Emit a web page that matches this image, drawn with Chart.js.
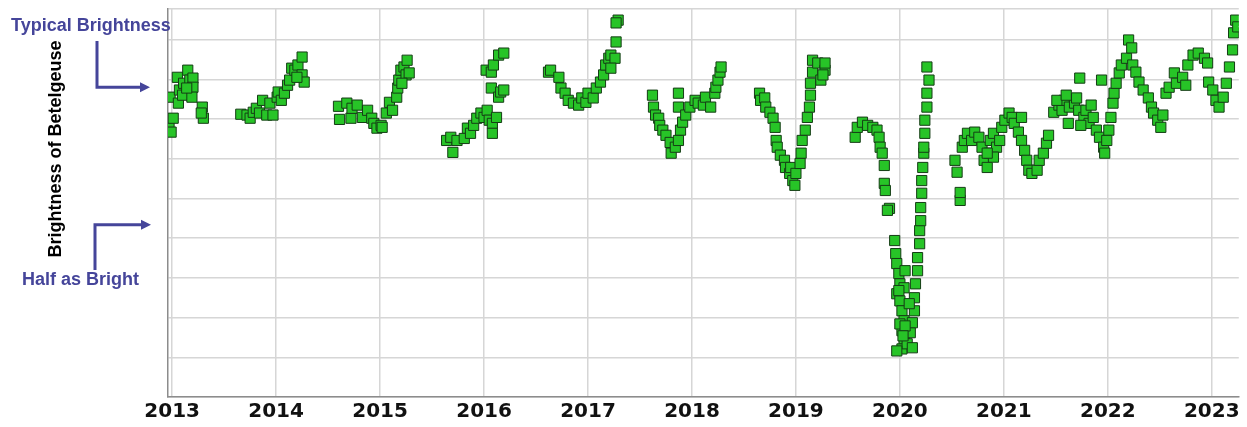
<!DOCTYPE html>
<html>
<head>
<meta charset="utf-8">
<script src="https://cdn.jsdelivr.net/npm/chart.js@4/dist/chart.umd.min.js"></script>
<style>
  body { margin: 0; background: #fff; }
  #wrap { width: 1247px; height: 427px; position: relative; }
</style>
</head>
<body>
<div id="wrap"><canvas id="chart"></canvas></div>
<script>
// year labels along the bottom
const yearTicks = [2013, 2014, 2015, 2016, 2017, 2018, 2019, 2020, 2021, 2022, 2023];

// observation dates (decimal year), one line per observing season
const obsYear = [
  2012.97, 2012.99, 2013.01, 2012.98, 2013.05, 2013.07, 2013.06, 2013.10, 2013.11, 2013.15, 2013.17, 2013.20, 2013.20, 2013.19, 2013.29, 2013.30, 2013.28, 2013.14,
  2013.66, 2013.72, 2013.75, 2013.78, 2013.81, 2013.84, 2013.87, 2013.91, 2013.94, 2013.97, 2014.01, 2014.02, 2014.05, 2014.08, 2014.11, 2014.13, 2014.15, 2014.18, 2014.21, 2014.25, 2014.25, 2014.27, 2014.20,
  2014.60, 2014.61, 2014.68, 2014.72, 2014.73, 2014.78, 2014.83, 2014.88, 2014.92, 2014.94, 2014.97, 2015.01, 2015.02, 2015.06, 2015.09, 2015.12, 2015.16, 2015.17, 2015.18, 2015.20, 2015.23, 2015.26, 2015.25, 2015.28, 2015.21,
  2015.64, 2015.68, 2015.70, 2015.74, 2015.81, 2015.84, 2015.87, 2015.90, 2015.93, 2015.97, 2016.00, 2016.03, 2016.05, 2016.08, 2016.08, 2016.12, 2016.07, 2016.14, 2016.16, 2016.19, 2016.02, 2016.07, 2016.09, 2016.14, 2016.19,
  2016.62, 2016.64, 2016.72, 2016.74, 2016.78, 2016.81, 2016.86, 2016.91, 2016.94, 2016.98, 2017.00, 2017.05, 2017.08, 2017.12, 2017.15, 2017.17, 2017.20, 2017.22, 2017.26, 2017.22, 2017.27, 2017.29, 2017.27,
  2017.62, 2017.63, 2017.65, 2017.68, 2017.69, 2017.72, 2017.75, 2017.79, 2017.80, 2017.84, 2017.87, 2017.89, 2017.91, 2017.87, 2017.87, 2017.94, 2017.98, 2018.03, 2018.06, 2018.11, 2018.13, 2018.18, 2018.22, 2018.23, 2018.25, 2018.27, 2018.28,
  2018.65, 2018.66, 2018.70, 2018.71, 2018.75, 2018.78, 2018.80, 2018.81, 2018.82, 2018.85, 2018.89, 2018.90, 2018.94, 2018.97, 2018.99, 2018.95, 2019.00, 2019.04, 2019.05, 2019.06, 2019.09, 2019.11, 2019.13, 2019.14, 2019.14, 2019.16, 2019.16, 2019.21, 2019.24, 2019.28, 2019.28, 2019.26,
  2019.57, 2019.59, 2019.64, 2019.69, 2019.74, 2019.78, 2019.80, 2019.81, 2019.83, 2019.85, 2019.85, 2019.86, 2019.90, 2019.88,
  2019.95, 2019.96, 2019.97, 2019.99, 2020.00, 2019.97, 2020.00, 2020.02, 2020.04, 2020.02, 2020.04, 2020.02, 2020.07, 2020.10, 2020.12, 2020.14, 2020.14, 2020.15, 2020.17, 2020.17, 2020.19, 2020.19, 2020.20, 2020.20, 2020.21, 2020.21, 2020.22, 2020.23,
  2020.05, 2020.04, 2020.00, 2019.97, 2020.09, 2020.12, 2020.26, 2020.28, 2020.26, 2020.26, 2020.24, 2020.24, 2020.23, 2019.99, 2020.05, 2020.03,
  2020.55, 2020.58, 2020.58, 2020.53, 2020.60, 2020.62, 2020.65, 2020.69, 2020.72, 2020.76, 2020.79, 2020.81, 2020.84, 2020.86, 2020.87, 2020.90, 2020.93, 2020.96, 2020.98, 2021.01, 2021.05, 2021.08, 2021.10, 2021.14, 2021.17, 2021.17, 2021.20, 2021.22, 2021.24, 2021.27, 2021.32, 2021.34, 2021.38, 2021.41, 2021.43, 2020.90, 2020.84,
  2021.48, 2021.53, 2021.56, 2021.58, 2021.62, 2021.63, 2021.68, 2021.72, 2021.73, 2021.77, 2021.79, 2021.82, 2021.86, 2021.89, 2021.92, 2021.94, 2021.96, 2021.97, 2021.99, 2022.01, 2022.03, 2022.05, 2022.06, 2022.08, 2022.11, 2022.13, 2022.18, 2022.20, 2022.23, 2022.24, 2022.27, 2022.30, 2022.34, 2022.39, 2022.42, 2022.44, 2022.48, 2022.51, 2021.51, 2021.60, 2021.70, 2021.84, 2021.74,
  2022.53, 2022.56, 2022.59, 2022.64, 2022.66, 2022.72, 2022.75, 2022.77, 2022.82, 2022.87, 2022.93, 2022.96, 2022.97, 2023.01, 2023.04, 2023.07, 2023.11, 2023.14, 2023.17, 2023.20, 2023.21, 2023.23, 2023.25
];

// brightness level (grid lines = whole units)
const obsLevel = [
  6.79, 6.67, 7.02, 7.55, 8.05, 7.73, 7.40, 7.60, 7.90, 8.23, 7.98, 8.03, 7.80, 7.55, 7.30, 7.02, 7.15, 7.78,
  7.12, 7.10, 7.02, 7.17, 7.27, 7.15, 7.47, 7.10, 7.40, 7.10, 7.55, 7.68, 7.47, 7.65, 7.85, 7.98, 8.28, 8.23, 8.36, 8.56, 8.11, 7.93, 8.05,
  7.32, 6.99, 7.40, 7.02, 7.27, 7.35, 7.04, 7.22, 7.02, 6.89, 6.77, 6.84, 6.79, 7.15, 7.42, 7.22, 7.55, 7.78, 7.98, 8.23, 8.31, 8.48, 8.11, 8.16, 7.90,
  6.46, 6.54, 6.16, 6.46, 6.51, 6.77, 6.64, 6.84, 7.02, 7.15, 7.04, 7.22, 6.97, 6.89, 6.64, 7.04, 7.78, 7.55, 7.68, 7.73, 8.23, 8.18, 8.36, 8.61, 8.66,
  8.18, 8.23, 8.05, 7.78, 7.65, 7.47, 7.40, 7.35, 7.53, 7.42, 7.65, 7.53, 7.78, 7.93, 8.11, 8.36, 8.53, 8.61, 8.53, 8.28, 8.94, 9.49, 9.42,
  7.60, 7.30, 7.10, 7.02, 6.84, 6.72, 6.59, 6.41, 6.14, 6.29, 6.46, 6.72, 6.92, 7.65, 7.30, 7.10, 7.30, 7.47, 7.40, 7.35, 7.55, 7.30, 7.65, 7.80, 7.98, 8.18, 8.31,
  7.65, 7.47, 7.53, 7.30, 7.17, 7.02, 6.79, 6.46, 6.29, 6.09, 5.96, 5.78, 5.63, 5.45, 5.33, 5.78, 5.63, 5.88, 6.14, 6.46, 6.72, 7.04, 7.30, 7.60, 7.90, 8.18, 8.48, 8.41, 7.98, 8.23, 8.41, 8.11,
  6.54, 6.79, 6.92, 6.84, 6.79, 6.72, 6.54, 6.29, 6.14, 5.83, 5.38, 5.20, 4.75, 4.70,
  3.94, 3.61, 3.36, 3.11, 2.85, 2.60, 2.42, 2.17, 1.92, 1.67, 1.46, 1.21, 1.34, 1.62, 1.87, 2.17, 2.50, 2.85, 3.18, 3.51, 3.86, 4.19, 4.44, 4.77, 5.13, 5.45, 5.78, 6.14,
  3.18, 2.75, 1.84, 1.16, 2.35, 1.24, 8.31, 7.98, 7.65, 7.30, 6.97, 6.64, 6.29, 2.68, 1.79, 1.54,
  5.66, 4.95, 5.15, 5.96, 6.29, 6.46, 6.64, 6.46, 6.67, 6.54, 6.29, 5.96, 5.78, 6.14, 6.46, 6.64, 6.29, 6.46, 6.79, 6.97, 7.15, 7.04, 6.89, 6.67, 7.04, 6.46, 6.21, 5.96, 5.71, 5.63, 5.71, 5.96, 6.14, 6.39, 6.59, 6.04, 6.14,
  7.17, 7.35, 7.22, 7.47, 6.89, 7.30, 7.40, 7.22, 8.03, 7.04, 7.22, 6.89, 7.04, 6.72, 6.54, 7.98, 6.29, 6.14, 6.46, 6.72, 7.04, 7.40, 7.65, 7.90, 8.16, 8.36, 8.53, 8.99, 8.79, 8.36, 8.18, 7.93, 7.73, 7.53, 7.30, 7.15, 6.97, 6.79, 7.47, 7.60, 7.53, 7.35, 6.84,
  7.10, 7.65, 7.80, 8.16, 7.90, 8.05, 7.85, 8.36, 8.61, 8.66, 8.53, 8.41, 7.93, 7.73, 7.47, 7.30, 7.55, 7.90, 8.31, 8.74, 9.17, 9.49, 9.32
];

// levels the two side arrows point at
const typicalLevel = 7.8;
const halfLevel = 4.34;
const axisTitle = "Brightness of Betelgeuse";
const typicalText = "Typical Brightness";
const halfText = "Half as Bright";

const points = obsYear.map((x, i) => ({ x: x, y: obsLevel[i] }));

const arrowColor = "#45459a";

function drawArrow(ctx, x0, y0, yTurn, xTip) {
  ctx.save();
  ctx.strokeStyle = arrowColor;
  ctx.fillStyle = arrowColor;
  ctx.lineWidth = 3;
  ctx.beginPath();
  ctx.moveTo(x0, y0);
  ctx.lineTo(x0, yTurn);
  ctx.lineTo(xTip - 8, yTurn);
  ctx.stroke();
  ctx.beginPath();
  ctx.moveTo(xTip, yTurn);
  ctx.lineTo(xTip - 10, yTurn - 5);
  ctx.lineTo(xTip - 10, yTurn + 5);
  ctx.closePath();
  ctx.fill();
  ctx.restore();
}

const sideNotes = {
  id: "sideNotes",
  afterDraw(chart) {
    const ctx = chart.ctx;
    const yScale = chart.scales.y;
    const yTyp = yScale.getPixelForValue(typicalLevel);
    const yHalf = yScale.getPixelForValue(halfLevel);

    ctx.save();
    // rotated axis title
    ctx.fillStyle = "#000";
    ctx.font = "bold 18px 'Liberation Sans', Arial, sans-serif";
    ctx.textAlign = "center";
    ctx.textBaseline = "middle";
    ctx.translate(56, 149);
    ctx.rotate(-Math.PI / 2);
    ctx.fillText(axisTitle, 0, 0);
    ctx.restore();

    ctx.save();
    ctx.fillStyle = arrowColor;
    ctx.font = "bold 18px 'Liberation Sans', Arial, sans-serif";
    ctx.textAlign = "left";
    ctx.textBaseline = "alphabetic";
    ctx.fillText(typicalText, 11, 31);
    ctx.fillText(halfText, 22, 285);
    ctx.restore();

    drawArrow(ctx, 97, 41, yTyp, 150);
    drawArrow(ctx, 95, 270, yHalf, 151);
  }
};

new Chart(document.getElementById("chart"), {
  type: "scatter",
  data: {
    datasets: [
      {
        label: "Betelgeuse",
        data: points,
        pointStyle: "rect",
        pointRadius: 7.2,
        pointHoverRadius: 7.2,
        backgroundColor: "#27c427",
        borderColor: "#153d15",
        borderWidth: 1,
      },
    ],
  },
  options: {
    responsive: true,
    maintainAspectRatio: false,
    animation: false,
    layout: {
      padding: { left: 168, top: 9, right: 4, bottom: 0 },
    },
    plugins: {
      legend: { display: false },
      tooltip: { enabled: false },
    },
    scales: {
      x: {
        type: "linear",
        min: 2012.96,
        max: 2023.26,
        afterBuildTicks: (scale) => {
          scale.ticks = yearTicks.map((v) => ({ value: v }));
        },
        grid: { color: "#d6d6d6", lineWidth: 1.5, drawTicks: false },
        border: { color: "#8c8c8c", width: 1.5 },
        ticks: {
          autoSkip: false,
          maxRotation: 0,
          padding: 3,
          color: "#111",
          font: { family: "'DejaVu Sans', sans-serif", size: 20, weight: "bold" },
          callback: (v) => String(v),
        },
      },
      y: {
        min: 0,
        max: 9.77,
        grid: { color: "#d6d6d6", lineWidth: 1.5, drawTicks: false },
        border: { color: "#8c8c8c", width: 1.5 },
        ticks: { display: false, stepSize: 1 },
      },
    },
  },
  plugins: [sideNotes],
});
</script>
</body>
</html>
